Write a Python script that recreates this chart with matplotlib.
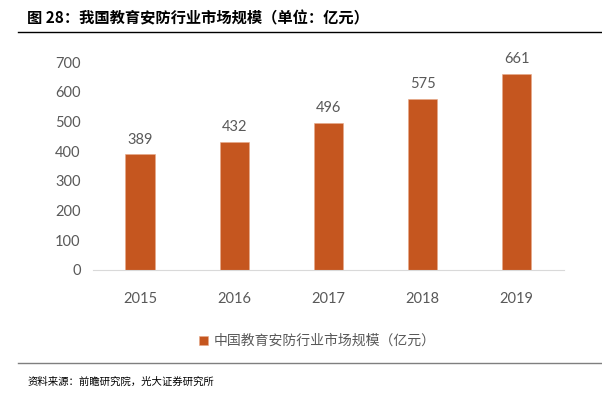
import matplotlib
matplotlib.use('Agg')
import matplotlib.pyplot as plt
from matplotlib.lines import Line2D

plt.rcParams['font.family'] = ['Lato', 'Noto Sans CJK SC', 'DejaVu Sans']

# 数据
years = ['2015', '2016', '2017', '2018', '2019']
values = [389, 432, 496, 575, 661]
y_ticks = [0, 100, 200, 300, 400, 500, 600, 700]

bar_color = '#C5561F'
text_color = '#595959'
cjk = ['Noto Sans CJK SC', 'DejaVu Sans']

fig = plt.figure(figsize=(6.02, 3.93), dpi=100)
ax = fig.add_axes([0.1545, 0.313, 0.782, 0.529])

bars = ax.bar(years, values, width=0.31, color=bar_color, edgecolor='#E8A98A', linewidth=0.4)
for rect, v in zip(bars, values):
    ax.text(rect.get_x() + rect.get_width() / 2, v + 26, str(v),
            ha='center', va='bottom', fontsize=10.5, color=text_color)

ax.set_ylim(0, 700)
ax.set_xlim(-0.5, len(years) - 0.5)
ax.set_yticks(y_ticks)
ax.tick_params(axis='both', length=0, labelsize=10.5, colors=text_color)
ax.tick_params(axis='y', pad=9)
ax.tick_params(axis='x', pad=16)
for side in ['top', 'right', 'left']:
    ax.spines[side].set_visible(False)
ax.spines['bottom'].set_color('#D9D9D9')

leg = fig.legend(handles=[bars], labels=['中国教育安防行业市场规模（亿元）'],
                 loc='center', bbox_to_anchor=(0.527, 0.132), frameon=False,
                 prop={'family': cjk, 'size': 10}, handlelength=0.6, handleheight=0.6,
                 handletextpad=0.4)
for t in leg.get_texts():
    t.set_color(text_color)

# 标题和分隔线
fig.text(0.045, 0.953, '图 28：我国教育安防行业市场规模（单位：亿元）', fontsize=11,
         fontweight='bold', va='center', ha='left', color='black', family=cjk)
fig.add_artist(Line2D([0.03, 1.0], [0.918, 0.918], color='black', lw=1.0))
fig.add_artist(Line2D([0.03, 1.0], [0.076, 0.076], color='#7F7F7F', lw=1.0))
fig.text(0.045, 0.028, '资料来源：前瞻研究院，光大证券研究所', fontsize=7.5,
         va='center', ha='left', color='black', family=cjk)

fig.savefig('out.png', dpi=100)
